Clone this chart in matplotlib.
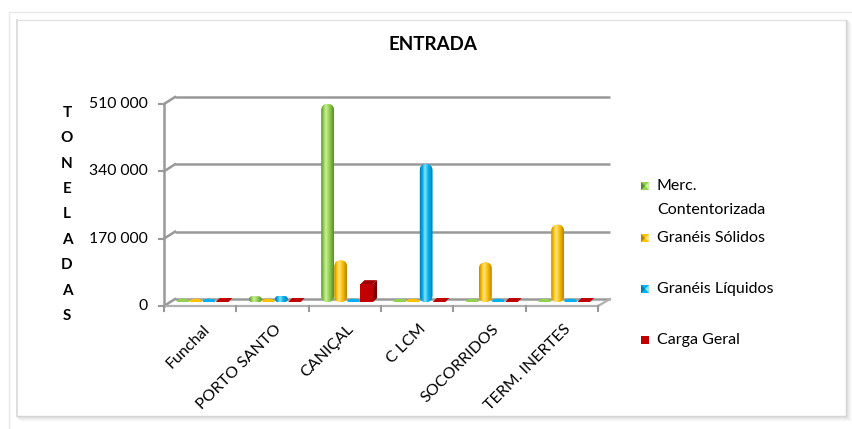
import matplotlib
matplotlib.use('Agg')
import matplotlib.pyplot as plt
import numpy as np
from matplotlib.patches import FancyBboxPatch, Rectangle, Polygon, Ellipse
from matplotlib.lines import Line2D
from matplotlib.colors import LinearSegmentedColormap
import matplotlib.transforms as mtransforms

plt.rcParams['font.family'] = ['Lato', 'DejaVu Sans']

# ---------------- data ----------------
categories = ['Funchal', 'PORTO SANTO', 'CANIÇAL', 'C LCM', 'SOCORRIDOS', 'TERM. INERTES']
series_names = ['Merc. Contentorizada', 'Granéis Sólidos', 'Granéis Líquidos', 'Carga Geral']
merc = [0, 14000, 500000, 0, 0, 0]
solidos = [0, 3000, 105000, 0, 100000, 195000]
liquidos = [0, 15000, 0, 348000, 0, 0]
carga = [0, 0, 45000, 0, 0, 0]
yticks = [0, 170000, 340000, 510000]
ytick_labels = ['0', '170 000', '340 000', '510 000']
ylabel_letters = list('TONELADAS')
title = 'ENTRADA'

series = [merc, solidos, liquidos, carga]
colors = ['#92d050', '#ffc000', '#00b0f0', '#c00000']
darks = ['#5a8c2a', '#b88400', '#0080b0', '#7a0000']
lights = ['#c8f09a', '#ffe58a', '#8ae2ff', '#e24a4a']

W, H = 852, 429
fig = plt.figure(figsize=(W / 100, H / 100), dpi=100)
fig.patch.set_facecolor('white')
T = mtransforms.Affine2D().scale(1, -1).translate(0, H)  # top-left pixel coords


def px(x0, y0, w, h):
    return [x0 / W, 1 - (y0 + h) / H, w / W, h / H]


def pline(xs, ys, zorder=-1, **kw):
    fig.add_artist(Line2D(xs, ys, transform=T, zorder=zorder, **kw))


# frame
pline([8.5, 8.5], [11.5, H], color='#e8e8e8', lw=1)
pline([8.5, W], [11.5, 11.5], color='#e8e8e8', lw=1)
pline([17, 17], [20, 416], color='#d8d8d8', lw=1.2)
pline([17, 846], [20, 20], color='#e2e2e2', lw=1.0)
for i, c in enumerate(['#d4d4d4', '#dedede', '#e8e8e8', '#f0f0f0', '#f6f6f6']):
    pline([17 + i, 846 + i], [416 + i, 416 + i], color=c, lw=1.0)
    pline([846 + i, 846 + i], [20 + i, 416 + i], color=c, lw=1.0)

ax = fig.add_axes(px(170, 100, 434, 202))
ax.set_zorder(1)
ax.patch.set_visible(False)
ax.set_xlim(-0.5, 5.5)
ax.set_ylim(0, 510000)
ax.set_autoscale_on(False)
ax.axis('off')

p0 = ax.transData.transform((0, 0))
p1 = ax.transData.transform((1, 1))
xpp = 1 / (p1[0] - p0[0])
ypp = 1 / (p1[1] - p0[1])
aspect = ypp / xpp


def ytop(v):
    return H - ax.transData.transform((0, v))[1]


grid_c = '#999999'
# back gridlines, wall diagonals, front axis
for v, lab in zip(yticks, ytick_labels):
    yb = ytop(v) - 3
    yf = ytop(v) + 4
    pline([175, 610], [yb, yb], color=grid_c, lw=1.8, solid_capstyle='butt')
    pline([164, 175], [yf, yb], color=grid_c, lw=1.8)
    pline([159, 164], [yf, yf], color=grid_c, lw=1.5)
    fig.text(148 / W, 1 - yf / H, lab, ha='right', va='center', fontsize=11.3, color='#000000')
pline([164, 164], [ytop(510000) + 4, ytop(0) + 4], color=grid_c, lw=1.8)
# floor
yf0 = ytop(0) + 4
pline([164, 598], [yf0, yf0], color='#b0b0b0', lw=1.6)
pline([598, 610], [yf0, ytop(0) - 3], color='#b0b0b0', lw=1.6)
catw = (598 - 164) / 6
for k in range(7):
    xk = 164 + k * catw
    pline([xk, xk], [yf0, yf0 + 5], color=grid_c, lw=1.5)

# bars
width = 0.18
x = np.arange(len(categories))
for si, vals in enumerate(series):
    pos = x + (si - 1.5) * width - 0.05
    bars = ax.bar(pos, vals, width=width * 0.97, color=colors[si])
    cmap = LinearSegmentedColormap.from_list(
        'g%d' % si, [(0, darks[si]), (0.2, colors[si]), (0.38, lights[si]),
                     (0.65, colors[si]), (1, darks[si])])
    grad = np.linspace(0, 1, 64).reshape(1, -1)
    for rect in bars:
        rect.set_visible(False)
        bx, bw, bh = rect.get_x(), rect.get_width(), rect.get_height()
        hpx = bh / ypp
        if si == 3:
            dx, dy = 4 * xpp, 4 * ypp
            if hpx < 2:
                ax.add_patch(Polygon([(bx, 0), (bx + bw, 0), (bx + bw + dx, dy), (bx + dx, dy)],
                                     closed=True, fc=colors[si], ec='none', zorder=3))
            else:
                ax.add_patch(Rectangle((bx, 0), bw, bh, fc=colors[si], ec='none', zorder=3))
                ax.add_patch(Polygon([(bx + bw, 0), (bx + bw + dx, dy), (bx + bw + dx, bh + dy), (bx + bw, bh)],
                                     closed=True, fc=darks[si], ec='none', zorder=3))
                ax.add_patch(Polygon([(bx, bh), (bx + bw, bh), (bx + bw + dx, bh + dy), (bx + dx, bh + dy)],
                                     closed=True, fc='#a00000', ec='none', zorder=3))
            continue
        if hpx < 3:
            # flat disc for (near) zero values
            e = Ellipse((bx + bw / 2, 1.0 * ypp), bw, 4.5 * ypp, fc=colors[si], ec='none', zorder=3)
            ax.add_patch(e)
            continue
        r = min(bw / 2, bh / aspect / 2)
        patch = FancyBboxPatch((bx, 0), bw, bh, boxstyle='round,pad=0,rounding_size=%g' % r,
                               mutation_aspect=aspect, fc=colors[si], ec='none', zorder=3)
        ax.add_patch(patch)
        im = ax.imshow(grad, cmap=cmap, extent=(bx, bx + bw, 0, bh), aspect='auto', zorder=3)
        im.set_clip_path(patch)

# x labels
for k, lab in enumerate(categories):
    cx = 164 + (k + 0.5) * catw + 2
    fig.text(cx / W, 1 - 322 / H, lab, rotation=45, ha='right', va='top',
             rotation_mode='anchor', fontsize=11.5, color='#000000')

# y label letters
for i, ch in enumerate(ylabel_letters):
    yy = 113 + i * (316 - 113) / 8
    fig.text(67 / W, 1 - yy / H, ch, ha='center', va='center', fontsize=11, fontweight='bold')

# title
fig.text(433 / W, 1 - 45 / H, title, ha='center', va='center', fontsize=13.5, fontweight='bold')

# legend
leg_entries = [(['Merc.', 'Contentorizada'], 186), (['Granéis Sólidos'], 238),
               (['Granéis Líquidos'], 289), (['Carga Geral'], 340)]
for si, (lines, y0) in enumerate(leg_entries):
    s = 8
    fig.add_artist(Rectangle((641, y0 - s / 2), s, s, transform=T, fc=colors[si], ec='none'))
    if si < 3:
        fig.add_artist(Polygon([(641, y0 - s / 2), (641 + s / 2, y0), (641, y0 + s / 2)],
                               closed=True, transform=T, fc=darks[si], ec='none'))
        fig.add_artist(Polygon([(641 + s, y0 - s / 2), (641 + s / 2, y0), (641 + s, y0 + s / 2)],
                               closed=True, transform=T, fc=lights[si], ec='none'))
    for li, t in enumerate(lines):
        fig.text(657 / W, 1 - (y0 + li * 24) / H, t, ha='left', va='center', fontsize=11.5)

fig.savefig('out.png', dpi=100, facecolor='white')
